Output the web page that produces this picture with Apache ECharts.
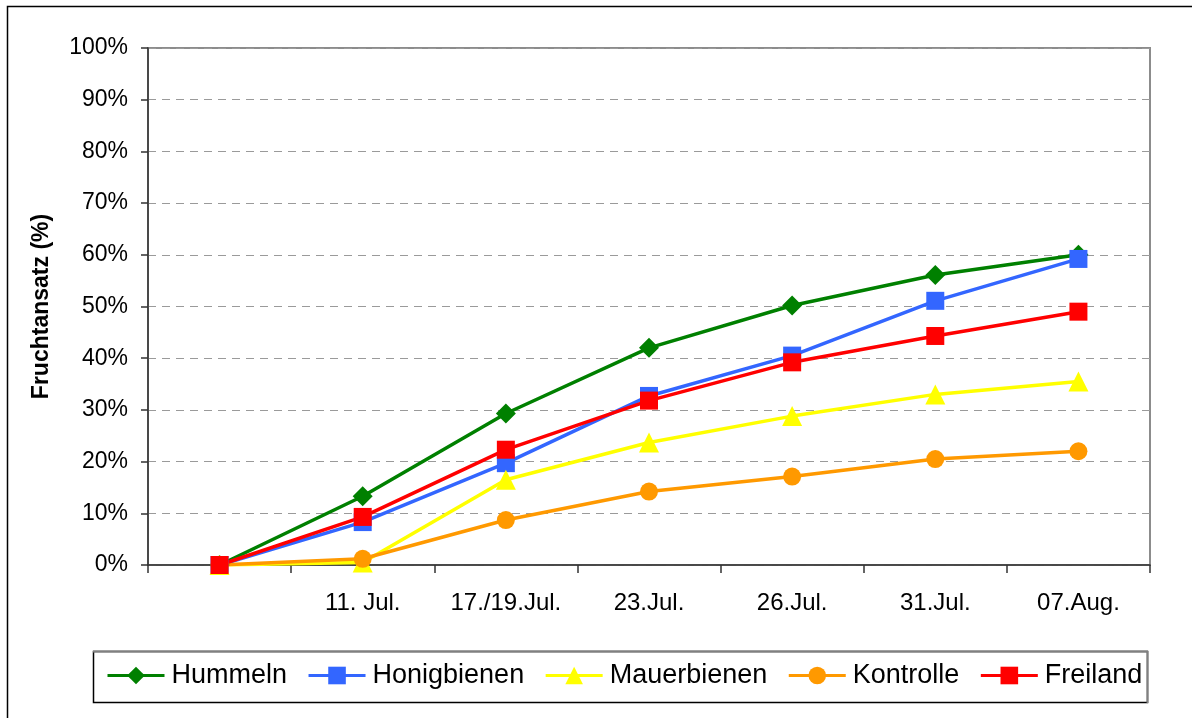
<!DOCTYPE html>
<html>
<head>
<meta charset="utf-8">
<script src="https://cdn.jsdelivr.net/npm/echarts@6/dist/echarts.min.js"></script>
<style>
html,body{margin:0;padding:0;background:#fff;}
#chart{width:1192px;height:718px;}
</style>
</head>
<body>
<div id="chart"></div>
<script>
const categories = ['', '11. Jul.', '17./19.Jul.', '23.Jul.', '26.Jul.', '31.Jul.', '07.Aug.'];
const hummeln     = [0, 13.3, 29.3, 42.0, 50.2, 56.1, 60.0];
const honigbienen = [0, 8.3, 19.7, 32.7, 40.5, 51.1, 59.2];
const mauerbienen = [0, 0.5, 16.5, 23.7, 28.8, 33.0, 35.5];
const kontrolle   = [0, 1.2, 8.7, 14.2, 17.1, 20.5, 22.0];
const freiland    = [0, 9.3, 22.3, 31.8, 39.2, 44.3, 49.0];
const yTicks = [0, 10, 20, 30, 40, 50, 60, 70, 80, 90, 100];

const FONT = '"Liberation Sans", Arial, sans-serif';

function mk(name, data, color, symbol, size) {
  return {
    name: name, type: 'line', data: data,
    symbol: symbol, symbolSize: size,
    lineStyle: {color: color, width: 3.5},
    itemStyle: {color: color},
    animation: false
  };
}

const chart = echarts.init(document.getElementById('chart'));
chart.setOption({
  animation: false,
  backgroundColor: '#fff',
  textStyle: {fontFamily: FONT},
  grid: {left: 148, top: 48, right: 42, bottom: 153, show: true, borderColor: '#8c8c8c', borderWidth: 2, backgroundColor: 'transparent'},
  xAxis: {
    type: 'category', data: categories, boundaryGap: true,
    axisLine: {lineStyle: {color: '#333', width: 1.5}},
    axisTick: {show: true, alignWithLabel: false, length: 8, lineStyle: {color: '#333', width: 1.5}},
    axisLabel: {color: '#000', fontSize: 24, fontFamily: FONT, margin: 26, interval: 0},
    splitLine: {show: false}
  },
  yAxis: {
    type: 'value', min: yTicks[0], max: yTicks[yTicks.length - 1], interval: 10,
    name: 'Fruchtansatz (%)', nameLocation: 'middle', nameGap: 95, nameRotate: 90,
    nameTextStyle: {color: '#000', fontSize: 23, fontWeight: 'bold', fontFamily: FONT},
    axisLine: {show: true, lineStyle: {color: '#333', width: 1.5}},
    axisTick: {show: true, length: 7, lineStyle: {color: '#333', width: 1.5}},
    axisLabel: {color: '#000', fontSize: 23, fontFamily: FONT, margin: 20, formatter: '{value}%'},
    splitLine: {show: true, lineStyle: {color: '#9a9a9a', width: 1.2, type: [8, 6]}}
  },
  legend: {
    left: 106, top: 662, padding: 0,
    itemWidth: 57, itemHeight: 22, itemGap: 20,
    lineStyle: {width: 3},
    textStyle: {color: '#000', fontSize: 27, fontFamily: FONT, padding: [0, 0, 0, 2]},
    data: ['Hummeln', 'Honigbienen', 'Mauerbienen', 'Kontrolle', 'Freiland']
  },
  graphic: [
    {type: 'rect', shape: {x: 7.5, y: 6.5, width: 1300, height: 900}, style: {fill: 'none', stroke: '#000', lineWidth: 1.5}, silent: true, z: -10},
    {type: 'rect', shape: {x: 93.5, y: 651.5, width: 1054, height: 51}, style: {fill: 'none', stroke: '#000', lineWidth: 1.5}, silent: true, z: -5},
    {type: 'line', shape: {x1: 93, y1: 651.5, x2: 1148, y2: 651.5}, style: {stroke: '#808080', lineWidth: 1.8}, silent: true, z: -4},
    {type: 'line', shape: {x1: 1147.5, y1: 651, x2: 1147.5, y2: 703}, style: {stroke: '#808080', lineWidth: 1.8}, silent: true, z: -4}
  ],
  series: [
    mk('Hummeln', hummeln, '#008000', 'diamond', 20),
    mk('Honigbienen', honigbienen, '#3366ff', 'rect', 18),
    mk('Mauerbienen', mauerbienen, '#ffff00', 'triangle', 20),
    mk('Kontrolle', kontrolle, '#ff9900', 'circle', 18),
    mk('Freiland', freiland, '#ff0000', 'rect', 18)
  ]
});
</script>
</body>
</html>
